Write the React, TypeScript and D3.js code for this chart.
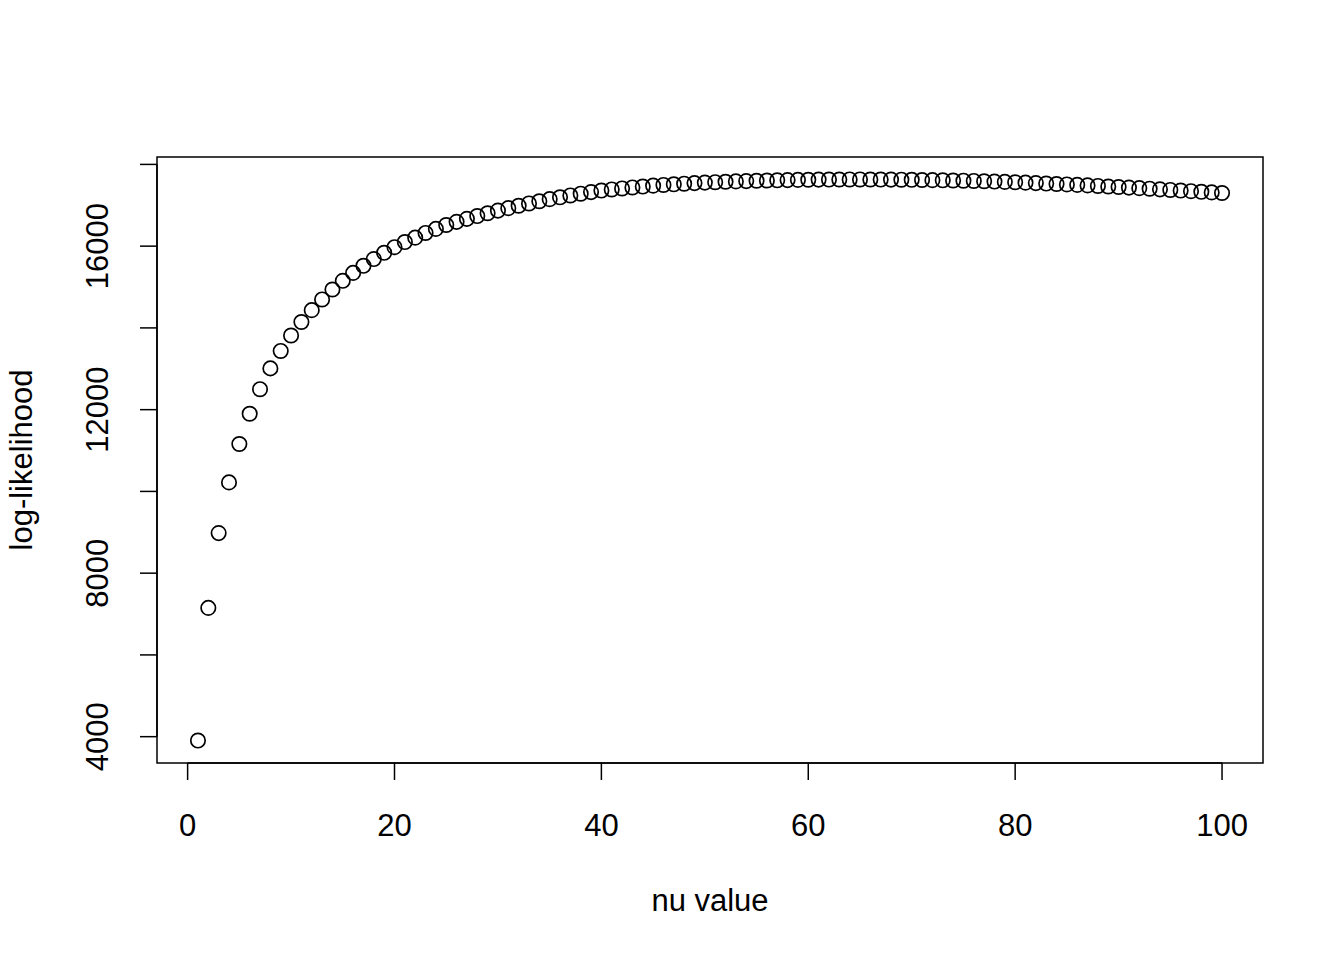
import React from "react";
import * as d3 from "d3";

const nuValues: number[] = d3.range(1, 101);
const logLik: number[] = [
  3905, 7150, 8980, 10220, 11160, 11900, 12500, 13010, 13436, 13814,
  14145, 14434, 14696, 14939, 15152, 15346, 15520, 15684, 15838, 15975,
  16100, 16208, 16323, 16422, 16517, 16595, 16668, 16737, 16805, 16870,
  16930, 16988, 17045, 17098, 17150, 17195, 17240, 17283, 17323, 17360,
  17387, 17412, 17436, 17458, 17480, 17497, 17513, 17528, 17542, 17555,
  17565, 17575, 17584, 17592, 17600, 17606, 17611, 17616, 17621, 17625,
  17628, 17630, 17631, 17632, 17632, 17631, 17630, 17628, 17626, 17623,
  17619, 17615, 17611, 17606, 17601, 17595, 17588, 17580, 17572, 17563,
  17553, 17543, 17532, 17521, 17510, 17498, 17486, 17473, 17460, 17447,
  17433, 17419, 17405, 17390, 17375, 17360, 17345, 17330, 17315, 17300,
];
const xTicks: number[] = [0, 20, 40, 60, 80, 100];
const yTicks: number[] = [4000, 6000, 8000, 10000, 12000, 14000, 16000, 18000];
const yLabelTicks: number[] = [4000, 8000, 12000, 16000];

const W = 1344;
const H = 960;
const left = 157, right = 1263, top = 157, bottom = 763;
const FONT = "'Liberation Sans', Arial, Helvetica, sans-serif";
const FS = 31;

function extend(ext: [number, number]): [number, number] {
  const d = (ext[1] - ext[0]) * 0.04;
  return [ext[0] - d, ext[1] + d];
}

export default function App() {
  const x = d3.scaleLinear().domain(extend(d3.extent(nuValues) as [number, number])).range([left, right]);
  const y = d3.scaleLinear().domain(extend(d3.extent(logLik) as [number, number])).range([bottom, top]);
  const tickLen = 17;
  return (
    <svg width={W} height={H} style={{ position: "absolute", left: 0, top: 0, background: "#fff" }} fontFamily={FONT}>
      <rect x={0} y={0} width={W} height={H} fill="#fff" />
      <rect x={left} y={top} width={right - left} height={bottom - top} fill="none" stroke="#000" strokeWidth={1.5} />
      {/* x axis */}
      <line x1={x(xTicks[0])} x2={x(xTicks[xTicks.length - 1])} y1={bottom} y2={bottom} stroke="#000" strokeWidth={1.5} />
      {xTicks.map((t) => (
        <g key={"xt" + t}>
          <line x1={x(t)} x2={x(t)} y1={bottom} y2={bottom + tickLen} stroke="#000" strokeWidth={1.5} />
          <text x={x(t)} y={836} textAnchor="middle" fontSize={FS} fill="#000">{t}</text>
        </g>
      ))}
      {/* y axis */}
      <line x1={left} x2={left} y1={y(yTicks[0])} y2={y(yTicks[yTicks.length - 1])} stroke="#000" strokeWidth={1.5} />
      {yTicks.map((t) => (
        <line key={"yt" + t} x1={left - tickLen} x2={left} y1={y(t)} y2={y(t)} stroke="#000" strokeWidth={1.5} />
      ))}
      {yLabelTicks.map((t) => (
        <text key={"yl" + t} transform={`translate(108,${y(t)}) rotate(-90)`} textAnchor="middle" fontSize={FS} fill="#000">{t}</text>
      ))}
      {/* points */}
      {nuValues.map((n, i) => (
        <circle key={"p" + n} cx={x(n)} cy={y(logLik[i])} r={7.2} fill="none" stroke="#000" strokeWidth={1.7} />
      ))}
      {/* axis titles */}
      <text x={(left + right) / 2} y={911} textAnchor="middle" fontSize={FS} fill="#000">nu value</text>
      <text transform={`translate(32,${(top + bottom) / 2}) rotate(-90)`} textAnchor="middle" fontSize={FS} fill="#000">log-likelihood</text>
    </svg>
  );
}
